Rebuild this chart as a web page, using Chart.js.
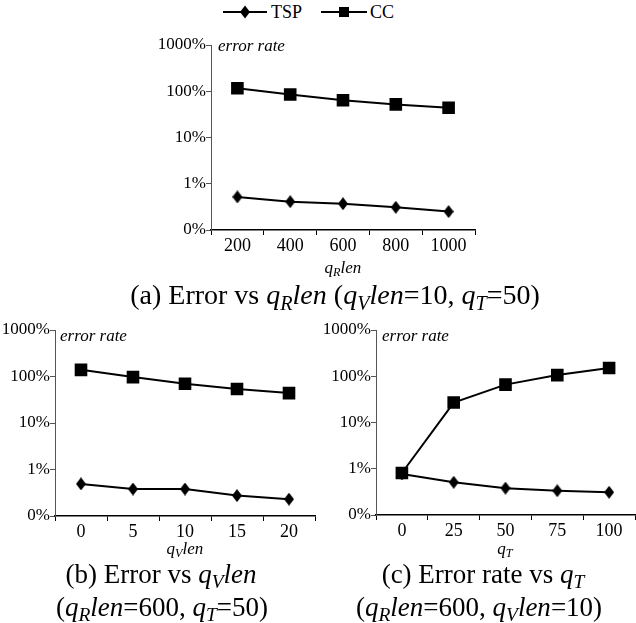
<!DOCTYPE html>
<html><head><meta charset="utf-8">
<script src="https://cdn.jsdelivr.net/npm/chart.js@4"></script>
<style>
body{margin:0;background:#fff;width:636px;height:623px;position:relative;overflow:hidden;font-family:'Liberation Serif','Times New Roman',serif;color:#000}
canvas{position:absolute}
.t{position:absolute;white-space:nowrap;line-height:1}
.c{transform:translate(-50%,-50%)}
.l{transform:translate(0,-50%)}
.i{font-style:italic}
sub{font-size:0.72em;vertical-align:-0.3em;line-height:0}
.cap{font-size:27px}
.ax{font-size:17px;font-style:italic}
.er{font-size:17px;font-style:italic}
</style></head><body>

<svg style="position:absolute;left:223px;top:5px" width="46" height="14"><line x1="0" y1="7" x2="44" y2="7" stroke="#000" stroke-width="2"/><polygon points="22,0.5 27,7 22,13.5 17,7" fill="#000"/></svg>
<div class="t l" style="left:271px;top:12px;font-size:18px">TSP</div>
<svg style="position:absolute;left:321px;top:5px" width="48" height="14"><line x1="0" y1="7" x2="46" y2="7" stroke="#000" stroke-width="2"/><rect x="18" y="2" width="10" height="10" fill="#000"/></svg>
<div class="t l" style="left:370px;top:12px;font-size:18px">CC</div>

<canvas id="ca" width="350" height="230" style="left:140px;top:30px"></canvas>
<canvas id="cb" width="330" height="240" style="left:0px;top:315px"></canvas>
<canvas id="cc" width="316" height="240" style="left:320px;top:315px"></canvas>

<div class="t l er" style="left:218px;top:45px">error rate</div>
<div class="t l er" style="left:60px;top:335px">error rate</div>
<div class="t l er" style="left:382px;top:335px">error rate</div>

<div class="t c ax" style="left:343px;top:267px">q<sub>R</sub>len</div>
<div class="t c ax" style="left:185px;top:548px">q<sub>V</sub>len</div>
<div class="t c ax" style="left:505px;top:548px">q<sub>T</sub></div>

<div class="t c cap" style="left:335px;top:295px;font-size:28px">(a) Error vs <span class="i">q<sub>R</sub>len</span> (<span class="i">q<sub>V</sub>len</span>=10, <span class="i">q<sub>T</sub></span>=50)</div>
<div class="t c cap" style="left:161px;top:574px">(b) Error vs <span class="i">q<sub>V</sub>len</span></div>
<div class="t c cap" style="left:162px;top:607px">(<span class="i">q<sub>R</sub>len</span>=600, <span class="i">q<sub>T</sub></span>=50)</div>
<div class="t c cap" style="left:483px;top:574px">(c) Error rate vs <span class="i">q<sub>T</sub></span></div>
<div class="t c cap" style="left:479px;top:607px">(<span class="i">q<sub>R</sub>len</span>=600, <span class="i">q<sub>V</sub>len</span>=10)</div>

<script>
// ---- data ----
const catsA = ['200','400','600','800','1000'];
const tspA  = [0.52, 0.41, 0.37, 0.31, 0.25];
const ccA   = [116, 85, 64, 52, 44];

const catsB = ['0','5','10','15','20'];
const tspB  = [0.49, 0.38, 0.38, 0.275, 0.23];
const ccB   = [139, 97, 70, 54, 44];

const catsC = ['0','25','50','75','100'];
const tspC  = [0.77, 0.51, 0.38, 0.335, 0.31];
const ccC   = [0.81, 27, 66, 106, 151];

const yTickValues = [0.1, 1, 10, 100, 1000];
const yTickText   = ['0%', '1%', '10%', '100%', '1000%'];

// ---- styles ----
const F = "'Liberation Serif','Times New Roman',serif";
const diamond = document.createElement('canvas');
diamond.width = 10; diamond.height = 13;
(function(){const g = diamond.getContext('2d'); g.fillStyle='#000'; g.beginPath(); g.moveTo(5,0); g.lineTo(10,6.5); g.lineTo(5,13); g.lineTo(0,6.5); g.closePath(); g.fill();})();

function make(id, labels, tsp, cc, yw, pad, xh){
  new Chart(document.getElementById(id), {
    type: 'line',
    data: { labels: labels, datasets: [
      {label:'TSP', data:tsp, borderColor:'#000', backgroundColor:'#000', borderWidth:2, pointStyle:diamond, pointRadius:6, tension:0},
      {label:'CC', data:cc, borderColor:'#000', backgroundColor:'#000', borderWidth:2, pointStyle:'rect', pointRadius:7.5, tension:0}
    ]},
    options: {
      responsive:false, animation:false, clip:false,
      layout:{autoPadding:false, padding:pad},
      plugins:{legend:{display:false}, tooltip:{enabled:false}},
      scales:{
        x:{type:'category', offset:true,
           grid:{offset:true, drawOnChartArea:false, drawTicks:true, tickLength:5, color:'#000', lineWidth:1},
           border:{color:'#000', width:1.5},
           ticks:{color:'#000', font:{family:F, size:18}, padding:0, maxRotation:0, autoSkip:false},
           afterFit:s=>{s.height = xh;}},
        y:{type:'logarithmic', min:0.1, max:1000,
           afterBuildTicks:s=>{s.ticks = yTickValues.map(v=>({value:v}));},
           grid:{drawOnChartArea:false, drawTicks:true, tickLength:5, color:'#555'},
           border:{color:'#555', width:1},
           ticks:{color:'#000', font:{family:F, size:17}, padding:0,
                  callback:(v)=>yTickText[yTickValues.indexOf(v)] ?? ''},
           afterFit:s=>{s.width = yw;}}
      }
    }
  });
}

make('ca', catsA, tspA, ccA, 71, {left:0,right:15,top:15,bottom:0}, 30);
make('cb', catsB, tspB, ccB, 55, {left:0,right:15,top:15,bottom:0}, 39);
make('cc', catsC, tspC, ccC, 56, {left:0,right:1,top:15,bottom:0}, 40);
</script>
</body></html>
